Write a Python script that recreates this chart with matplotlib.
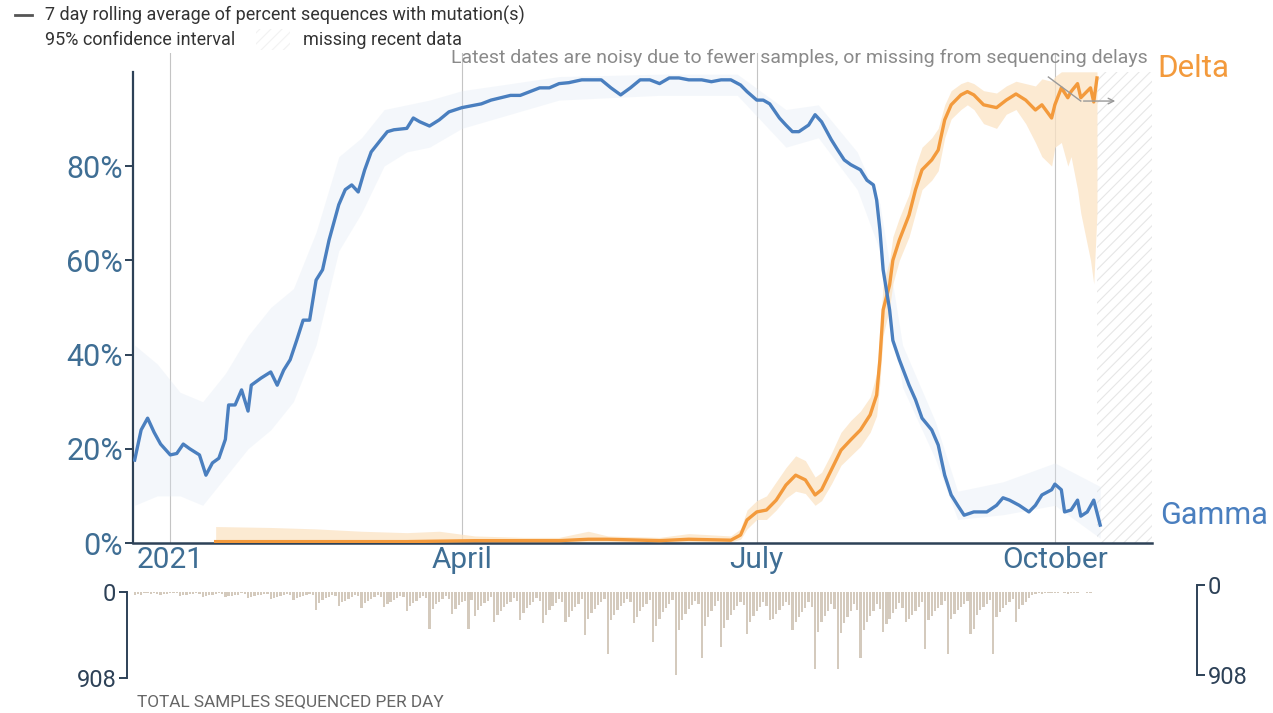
import matplotlib.pyplot as plt
import matplotlib.dates as mdates
import pandas as pd

# Gamma: 7 day rolling average, percent of sequences
gamma_dates = ['2020-12-21', '2020-12-23', '2020-12-25', '2020-12-27', '2020-12-29', '2021-01-01',
               '2021-01-03', '2021-01-05', '2021-01-07', '2021-01-10', '2021-01-12', '2021-01-14',
               '2021-01-16', '2021-01-18', '2021-01-19', '2021-01-21', '2021-01-23', '2021-01-25',
               '2021-01-26', '2021-01-29', '2021-02-01', '2021-02-03', '2021-02-05', '2021-02-07',
               '2021-02-09', '2021-02-11', '2021-02-13', '2021-02-15', '2021-02-17', '2021-02-19',
               '2021-02-22', '2021-02-24', '2021-02-26', '2021-02-28', '2021-03-02', '2021-03-04',
               '2021-03-07', '2021-03-09', '2021-03-11', '2021-03-15', '2021-03-17', '2021-03-19',
               '2021-03-22', '2021-03-25', '2021-03-28', '2021-04-01', '2021-04-04', '2021-04-07',
               '2021-04-10', '2021-04-13', '2021-04-16', '2021-04-19', '2021-04-22', '2021-04-25',
               '2021-04-28', '2021-05-01', '2021-05-04', '2021-05-08', '2021-05-11', '2021-05-14',
               '2021-05-17', '2021-05-20', '2021-05-23', '2021-05-26', '2021-05-29', '2021-06-01',
               '2021-06-04', '2021-06-07', '2021-06-10', '2021-06-14', '2021-06-17', '2021-06-20',
               '2021-06-23', '2021-06-26', '2021-06-28', '2021-07-01', '2021-07-03', '2021-07-05',
               '2021-07-08', '2021-07-10', '2021-07-12', '2021-07-14', '2021-07-17', '2021-07-19',
               '2021-07-21', '2021-07-24', '2021-07-26', '2021-07-28', '2021-07-30', '2021-08-02',
               '2021-08-04', '2021-08-06', '2021-08-07', '2021-08-08', '2021-08-09', '2021-08-11',
               '2021-08-12', '2021-08-14', '2021-08-17', '2021-08-19', '2021-08-21', '2021-08-24',
               '2021-08-26', '2021-08-28', '2021-08-30', '2021-09-01', '2021-09-03', '2021-09-06',
               '2021-09-10', '2021-09-13', '2021-09-15', '2021-09-17', '2021-09-20', '2021-09-23',
               '2021-09-25', '2021-09-27', '2021-09-30', '2021-10-01', '2021-10-03', '2021-10-04',
               '2021-10-06', '2021-10-08', '2021-10-09', '2021-10-11', '2021-10-13', '2021-10-15']
gamma_pct = [17.6, 24, 26.5, 23.5, 21, 18.7,
             19, 21, 20, 18.7, 14.4, 17,
             18, 22, 29.3, 29.3, 32.5, 28,
             33.5, 35, 36.3, 33.5, 36.7, 38.9,
             43, 47.3, 47.3, 55.8, 58, 64.3,
             71.8, 75, 76, 74.5, 79.2, 83,
             85.6, 87.3, 87.7, 88, 90.2, 89.4,
             88.5, 89.8, 91.5, 92.4, 92.8, 93.2,
             94, 94.5, 95, 95, 95.8, 96.6,
             96.6, 97.5, 97.7, 98.3, 98.3, 98.3,
             96.6, 95.1, 96.6, 98.3, 98.3, 97.5,
             98.7, 98.7, 98.3, 98.3, 97.9, 98.3,
             98.3, 97.2, 95.8, 94, 94, 93.2,
             90.2, 88.7, 87.3, 87.3, 88.7, 90.9,
             89.4, 85.6, 83.4, 81.3, 80.3, 79.2,
             77, 76, 72.8, 66.5, 58, 49.5,
             43, 38.9, 33.5, 30.4, 26.5, 24,
             20.8, 14.4, 10.2, 8, 5.9, 6.6,
             6.6, 8, 9.6, 9.1, 8, 6.6,
             8, 10.2, 11.3, 12.5, 11.3, 6.6,
             7, 9.1, 5.7, 6.6, 9.1, 3.8]

# Gamma 95% confidence interval
gamma_ci_dates = ['2020-12-21', '2020-12-28', '2021-01-04', '2021-01-11', '2021-01-18', '2021-01-25',
                  '2021-02-01', '2021-02-08', '2021-02-15', '2021-02-22', '2021-03-01', '2021-03-08',
                  '2021-03-15', '2021-03-22', '2021-04-01', '2021-05-01', '2021-06-01', '2021-06-25',
                  '2021-07-10', '2021-07-20', '2021-08-01', '2021-08-08', '2021-08-15', '2021-08-25',
                  '2021-09-01', '2021-09-15', '2021-10-01', '2021-10-15']
gamma_ci_lo = [8, 10, 10, 8, 14, 20, 24, 30, 42, 62, 70, 80, 83, 84, 88, 94, 95, 95,
               84, 86, 75, 62, 33, 18, 5, 6, 8, 1]
gamma_ci_hi = [42, 38, 32, 30, 36, 44, 50, 54, 66, 82, 86, 92, 93, 94, 96, 99, 99.5, 99.5,
               92, 93, 83, 72, 42, 26, 11, 13, 17, 12]

# Delta: 7 day rolling average with 95% confidence interval
delta_dates = ['2021-01-15', '2021-02-01', '2021-02-15', '2021-03-01', '2021-03-15', '2021-03-25',
               '2021-04-05', '2021-04-20', '2021-05-01', '2021-05-10', '2021-05-16', '2021-06-01',
               '2021-06-10', '2021-06-23', '2021-06-26', '2021-06-28', '2021-07-01', '2021-07-04',
               '2021-07-07', '2021-07-10', '2021-07-13', '2021-07-16', '2021-07-19', '2021-07-21',
               '2021-07-24', '2021-07-27', '2021-07-30', '2021-08-02', '2021-08-05', '2021-08-07',
               '2021-08-08', '2021-08-09', '2021-08-11', '2021-08-12', '2021-08-14', '2021-08-17',
               '2021-08-19', '2021-08-21', '2021-08-24', '2021-08-26', '2021-08-28', '2021-08-30',
               '2021-09-02', '2021-09-04', '2021-09-06', '2021-09-09', '2021-09-13', '2021-09-16',
               '2021-09-19', '2021-09-22', '2021-09-25', '2021-09-27', '2021-09-30', '2021-10-01',
               '2021-10-03', '2021-10-05', '2021-10-06', '2021-10-08', '2021-10-09', '2021-10-12',
               '2021-10-13', '2021-10-14']
delta_pct = [0.3, 0.3, 0.3, 0.3, 0.3, 0.4, 0.5, 0.5, 0.5, 0.8, 0.8, 0.5, 0.8, 0.6, 1.7, 4.9,
             6.6, 7, 9.1, 12.3, 14.4, 13.4, 10.2, 11.3, 15.5, 19.7, 21.9, 24, 27.2, 31.4,
             38.9, 49.5, 54.8, 60, 64.3, 69.6, 75, 79.2, 81.3, 83.4, 89.8, 93, 95.1, 95.8,
             95.1, 93, 92.4, 94, 95.3, 94, 91.9, 93, 90.2, 93, 96.6, 94.5, 95.8, 97.5, 94.5,
             96.6, 93.6, 98.7]
delta_ci_lo = [0, 0, 0, 0, 0, 0, 0, 0, 0, 0.2, 0.2, 0, 0.2, 0.2, 0.8, 3,
               5, 5, 7, 9.5, 11, 10.5, 8, 9, 12.5, 16.5, 18.5, 20.5, 23.5, 27,
               34, 44, 50, 55, 60, 65, 70, 75, 77, 79, 86, 90, 92, 93,
               92, 89, 88, 91, 92, 89, 85, 82, 80, 84, 85, 80, 82, 75, 70,
               60, 55, 70]
delta_ci_hi = [3.5, 3.3, 3, 2.5, 2.2, 2.5, 1.5, 1.2, 1.2, 2.5, 1.5, 1.2, 2, 1.5, 3, 7,
               9, 10, 13, 16, 18.5, 17.5, 14, 15, 19, 23.5, 26, 28, 31, 36,
               44, 55, 60, 65, 69, 74, 80, 84, 86, 88, 93, 96, 97.5, 98,
               97.5, 96, 95.5, 97, 98, 97.5, 97, 98.5, 98, 99, 100, 100, 100, 100, 100,
               100, 100, 100]

# total samples sequenced per day, from 2020-12-21
bar_start = '2020-12-21'
bar_values = [30, 22, 28, 12, 6, 18, 10,
              25, 30, 20, 16, 8, 12, 14,
              40, 35, 28, 24, 18, 10, 16,
              48, 42, 36, 30, 22, 12, 20,
              55, 46, 40, 34, 26, 14, 22,
              60, 52, 44, 36, 28, 16, 24,
              70, 58, 50, 40, 30, 18, 26,
              85, 66, 56, 44, 34, 20, 30,
              190, 120, 80, 64, 48, 28, 40,
              150, 110, 90, 70, 52, 30, 44,
              170, 120, 96, 74, 56, 34, 48,
              160, 130, 100, 80, 60, 38, 52,
              200, 150, 116, 90, 66, 40, 60,
              390, 180, 130, 100, 74, 44, 70,
              230, 180, 140, 110, 90, 390, 80,
              250, 190, 150, 120, 90, 56, 315,
              240, 200, 160, 130, 100, 60, 90,
              300, 220, 170, 140, 110, 64, 96,
              330, 240, 190, 150, 120, 70, 100,
              320, 260, 200, 160, 124, 74, 450,
              280, 220, 180, 140, 110, 70, 650,
              300, 240, 190, 150, 120, 76, 110,
              330, 260, 200, 160, 126, 80, 530,
              360, 280, 210, 170, 130, 84, 880,
              400, 300, 230, 180, 140, 90, 130,
              700, 360, 260, 200, 150, 96, 580,
              380, 300, 240, 190, 150, 100, 140,
              440, 320, 250, 200, 160, 104, 150,
              300, 280, 230, 190, 150, 100, 140,
              400, 320, 260, 210, 170, 110, 160,
              810, 420, 320, 250, 200, 130, 180,
              810, 430, 330, 260, 200, 130, 190,
              700, 400, 320, 250, 200, 126, 180,
              420, 340, 280, 220, 180, 116, 170,
              320, 280, 240, 200, 160, 110, 600,
              300, 250, 200, 170, 140, 96, 650,
              280, 230, 190, 160, 130, 90, 440,
              390, 240, 190, 160, 130, 86, 650,
              260, 210, 170, 140, 110, 76, 320,
              180, 140, 100, 60, 30, 16, 12,
              20, 14, 10, 8, 12, 6, 4,
              10, 16, 8, 6, 12, 4, 3,
              6, 10, 4, 2]
bar_max = 908

month_ticks = ['2021-01-01', '2021-04-01', '2021-07-01', '2021-10-01']
month_labels = ['2021', 'April', 'July', 'October']
y_ticks = [0, 20, 40, 60, 80]
missing_from = '2021-10-14'
missing_to = '2021-10-31'

BLUE = '#4a7fbf'
ORANGE = '#f39a3c'
NAVY = '#2d4157'
LABEL = '#3f6e94'

plt.rcParams['font.family'] = ['Roboto', 'DejaVu Sans']
plt.rcParams['hatch.color'] = '#e6e6e6'
plt.rcParams['hatch.linewidth'] = 0.8

fig = plt.figure(figsize=(12.73, 7.13), dpi=100)
ax = fig.add_axes([0.1045, 0.2384, 0.8005, 0.6873])
xmin, xmax = pd.Timestamp('2020-12-20 12:00'), pd.Timestamp('2021-10-31')

g_d = pd.to_datetime(gamma_dates)
gci_d = pd.to_datetime(gamma_ci_dates)
d_d = pd.to_datetime(delta_dates)

for m in month_ticks:
    ax.axvline(pd.Timestamp(m), color='#c4c4c4', lw=0.8, zorder=0)

ax.fill_between([pd.Timestamp(missing_from), pd.Timestamp(missing_to)], 0, 100,
                facecolor='none', hatch='///', edgecolor='#e6e6e6', linewidth=0, zorder=0)

ax.fill_between(gci_d, gamma_ci_lo, gamma_ci_hi, color='#dde7f3', alpha=0.3, lw=0, zorder=1)
ax.fill_between(d_d, delta_ci_lo, delta_ci_hi, color='#fbe3c4', alpha=0.75, lw=0, zorder=1)
ax.plot(d_d, delta_pct, color=ORANGE, lw=2.4, zorder=3)
ax.plot(g_d, gamma_pct, color=BLUE, lw=2.4, zorder=4)

ax.set_xlim(xmin, xmax)
ax.set_ylim(0, 104)
for s in ['top', 'right']:
    ax.spines[s].set_visible(False)
ax.spines['left'].set_bounds(0, 100)
ax.spines['left'].set_color(NAVY)
ax.spines['left'].set_linewidth(1.6)
ax.spines['bottom'].set_color(NAVY)
ax.spines['bottom'].set_linewidth(1.8)
ax.set_yticks(y_ticks)
ax.set_yticklabels([f'{v}%' for v in y_ticks])
ax.tick_params(axis='y', length=6, width=1.4, color=NAVY, labelsize=22, labelcolor=LABEL, pad=1)
ax.set_xticks(pd.to_datetime(month_ticks))
ax.set_xticklabels(month_labels)
ax.tick_params(axis='x', length=0, labelsize=21.5, labelcolor=LABEL, pad=2)

# annotation about noisy recent data
ax.plot([pd.Timestamp('2021-09-29'), pd.Timestamp('2021-10-09')], [98.9, 93.8], color='#9a9a9a', lw=1, zorder=5)
ax.annotate('', xy=(pd.Timestamp('2021-10-20 12:00'), 93.8), xytext=(pd.Timestamp('2021-10-09'), 93.8),
            arrowprops=dict(arrowstyle='->', color='#9a9a9a', lw=1))
fig.text(0.9018, 0.9187, 'Latest dates are noisy due to fewer samples, or missing from sequencing delays',
         ha='right', va='center', fontsize=14, color='#8a8a8a')
fig.text(0.909, 0.9046, 'Delta', ha='left', va='center', fontsize=22.5, color=ORANGE)
fig.text(0.911, 0.2763, 'Gamma', ha='left', va='center', fontsize=22, color=BLUE)

# legend at the top
fig.add_artist(plt.Line2D([0.0118, 0.0251], [0.979, 0.979], color='#555555', lw=2))
fig.text(0.0353, 0.979, '7 day rolling average of percent sequences with mutation(s)',
         ha='left', va='center', fontsize=13, color='#333333')
fig.text(0.0353, 0.944, '95% confidence interval', ha='left', va='center', fontsize=13, color='#333333')
fig.add_artist(plt.Rectangle((0.201, 0.93), 0.027, 0.03, transform=fig.transFigure,
                             facecolor='none', hatch='///', edgecolor='#f2f2f2', lw=0))
fig.text(0.238, 0.944, 'missing recent data', ha='left', va='center', fontsize=13, color='#333333')

# samples per day bars (hanging down)
axb = fig.add_axes([0.1045, 0.049, 0.8005, 0.1206])
bar_dates = pd.date_range(bar_start, periods=len(bar_values), freq='D')
axb.bar(bar_dates, bar_values, width=0.7, color='#d4cabd', lw=0)
axb.set_xlim(xmin, xmax)
axb.set_ylim(bar_max, 0)
for s in ['top', 'right', 'bottom']:
    axb.spines[s].set_visible(False)
axb.spines['left'].set_position(('outward', 4))
axb.spines['left'].set_color(NAVY)
axb.spines['left'].set_linewidth(1.4)
axb.set_xticks([])
axb.set_yticks([0, bar_max])
axb.set_yticklabels(['0', str(bar_max)])
axb.tick_params(axis='y', length=6, width=1.4, color=NAVY, labelsize=17, labelcolor=NAVY, pad=2)
axb.patch.set_alpha(0)

axr = fig.add_axes([1197 / 1273 - 0.004, 1 - 675 / 713, 0.004, 90 / 713])
axr.set_ylim(bar_max, 0)
for s in ['top', 'left', 'bottom']:
    axr.spines[s].set_visible(False)
axr.spines['right'].set_color(NAVY)
axr.spines['right'].set_linewidth(1.4)
axr.yaxis.tick_right()
axr.set_xticks([])
axr.set_yticks([0, bar_max])
axr.set_yticklabels(['0', str(bar_max)])
axr.tick_params(axis='y', length=6, width=1.4, color=NAVY, labelsize=17, labelcolor=NAVY, pad=2)
axr.patch.set_alpha(0)

fig.text(0.1076, 0.0154, 'TOTAL SAMPLES SEQUENCED PER DAY', ha='left', va='center', fontsize=12.4, color='#666666')

fig.savefig('out.png', dpi=100)
